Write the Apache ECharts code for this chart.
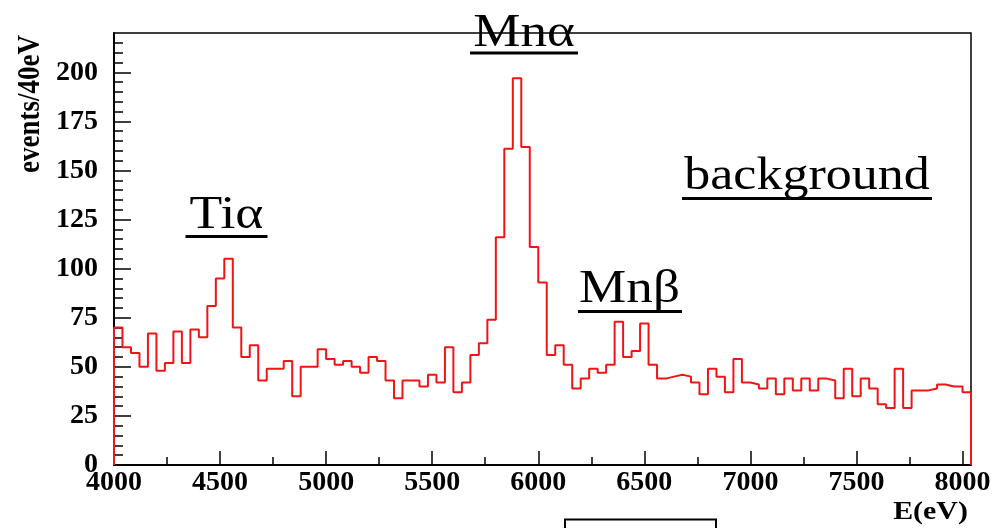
<!DOCTYPE html>
<html>
<head>
<meta charset="utf-8">
<script src="https://cdn.jsdelivr.net/npm/echarts@6/dist/echarts.min.js"></script>
<style>
  html, body { margin: 0; padding: 0; background: #fff; }
  #chart { width: 999px; height: 528px; }
</style>
</head>
<body>
<div id="chart"></div>
<script>
// Energy histogram: 40 eV bins starting at 4000 eV
const binLow = 4000;
const binWidth = 40;
const counts = [
  70, 60, 57, 50, 67, 48, 52, 68, 52, 69,
  65, 81, 95, 105, 70, 55, 61, 43, 49, 49,
  53, 35, 50, 50, 59, 54, 51, 53, 50, 47,
  55, 53, 43, 34, 43, 43, 40, 46, 42, 60,
  37, 42, 56, 62, 74, 116, 161, 197, 162, 111,
  93, 56, 61, 51, 39, 44, 49, 47, 51, 73,
  55, 58, 72, 51, 44, 45, 46, 45, 42, 36,
  49, 45, 37, 54, 42, 41, 39, 44, 36, 44,
  38, 44, 38, 44, 43, 34, 49, 35, 44, 39,
  31, 29, 49, 29, 38, 38, 39, 41, 40, 40,
  37
];

// Axis ticks and labels
const xMajorTicks = [4000, 4500, 5000, 5500, 6000, 6500, 7000, 7500, 8000];
const xMinorTicks = [4250, 4750, 5250, 5750, 6250, 6750, 7250, 7750];
const yMajorTicks = [0, 25, 50, 75, 100, 125, 150, 175, 200];
const yMinorTicks = [5, 10, 15, 20, 30, 35, 40, 45, 55, 60, 65, 70, 80, 85, 90, 95,
  105, 110, 115, 120, 130, 135, 140, 145, 155, 160, 165, 170, 180, 185, 190, 195,
  205, 210, 215];
const xMin = 4000, xMax = 8040, yMin = 0, yMax = 220;

// Peak annotations
const peakLabels = ['Mn\u03b1', 'Ti\u03b1', 'Mn\u03b2', 'background'];
const xTitle = 'E(eV)';
const yTitle = 'events/40eV';

// Step outline: start and end on the zero line
const xEnd = binLow + counts.length * binWidth;
const outline = [[binLow, 0]];
counts.forEach((c, i) => outline.push([binLow + i * binWidth, c]));
outline.push([xEnd, counts[counts.length - 1]]);
outline.push([xEnd, 0]);

const serif = '"Liberation Serif", "Times New Roman", serif';
const black = '#000';
const plain = v => String(v);

function label(text, cx, cy, size, sx, bold) {
  return {
    type: 'text', x: cx, y: cy, scaleX: sx, z: 10,
    style: {
      text: text, fontFamily: serif, fontSize: size,
      fontWeight: bold ? 'bold' : 'normal', fill: black,
      align: 'center', verticalAlign: 'middle'
    }
  };
}
function underline(x, y, w) {
  return { type: 'rect', z: 10, shape: { x: x, y: y, width: w, height: 3 }, style: { fill: black } };
}

const chart = echarts.init(document.getElementById('chart'), null, { renderer: 'canvas' });
chart.setOption({
  animation: false,
  backgroundColor: '#fff',
  grid: {
    left: 114, right: 28, top: 33, bottom: 63,
    show: true, borderColor: black, borderWidth: 1.5, backgroundColor: 'transparent'
  },
  xAxis: [
    {
      type: 'value', min: xMin, max: xMax, position: 'bottom',
      axisLine: { show: true, onZero: false, lineStyle: { color: black, width: 2 } },
      axisTick: { show: true, inside: true, length: 14, customValues: xMajorTicks,
        lineStyle: { color: black, width: 1.5 } },
      axisLabel: { customValues: xMajorTicks, formatter: plain, fontFamily: serif,
        fontWeight: 'bold', fontSize: 28, color: black, margin: 4 },
      splitLine: { show: false }
    },
    {
      type: 'value', min: xMin, max: xMax, position: 'bottom',
      axisLine: { show: false },
      axisTick: { show: true, inside: true, length: 8, customValues: xMinorTicks,
        lineStyle: { color: black, width: 1.5 } },
      axisLabel: { show: false },
      splitLine: { show: false }
    }
  ],
  yAxis: [
    {
      type: 'value', min: yMin, max: yMax, position: 'left',
      axisLine: { show: true, onZero: false, lineStyle: { color: black, width: 2 } },
      axisTick: { show: true, inside: true, length: 17, customValues: yMajorTicks,
        lineStyle: { color: black, width: 1.5 } },
      axisLabel: { customValues: yMajorTicks, formatter: plain, fontFamily: serif,
        fontWeight: 'bold', fontSize: 28, color: black, margin: 16 },
      splitLine: { show: false }
    },
    {
      type: 'value', min: yMin, max: yMax, position: 'left',
      axisLine: { show: false },
      axisTick: { show: true, inside: true, length: 9, customValues: yMinorTicks,
        lineStyle: { color: black, width: 1.5 } },
      axisLabel: { show: false },
      splitLine: { show: false }
    }
  ],
  series: [{
    type: 'line',
    xAxisIndex: 0, yAxisIndex: 0,
    step: 'end',
    data: outline,
    symbol: 'none',
    clip: false,
    lineStyle: { color: '#f01414', width: 2 },
    z: 3
  }],
  graphic: [
    label(peakLabels[0], 524, 34, 47, 1.13, false),
    underline(470, 51.5, 108),
    label(peakLabels[1], 226.5, 216, 47, 1.14, false),
    underline(185.5, 235, 82),
    label(peakLabels[2], 629.5, 290, 47, 1.13, false),
    underline(578, 310, 104),
    label(peakLabels[3], 807, 177, 46, 1.13, false),
    underline(682, 197, 250),
    label(xTitle, 930.5, 512, 26, 1.15, true),
    {
      type: 'text', x: 31, y: 35, rotation: Math.PI / 2, scaleY: 1.15, z: 10,
      style: {
        text: yTitle, fontFamily: serif, fontSize: 27, fontWeight: 'bold', fill: black,
        align: 'right', verticalAlign: 'middle'
      }
    },
    {
      type: 'rect', z: 10,
      shape: { x: 565, y: 519.5, width: 151, height: 15 },
      style: { fill: '#fff', stroke: black, lineWidth: 2 }
    }
  ]
});
</script>
</body>
</html>
